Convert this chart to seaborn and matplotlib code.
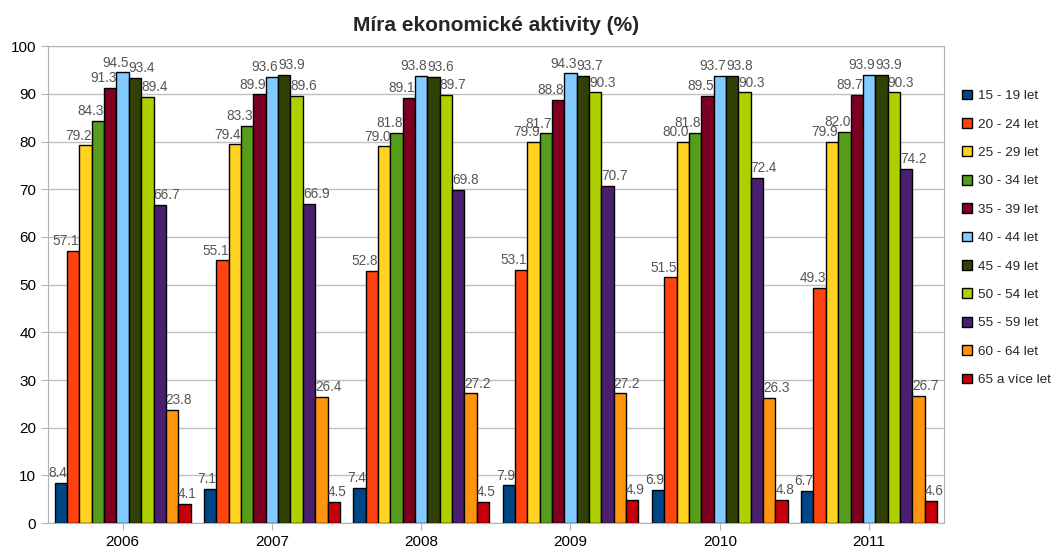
import pandas as pd
import seaborn as sns
import matplotlib.pyplot as plt

years = ["2006", "2007", "2008", "2009", "2010", "2011"]
groups = ["15 - 19 let", "20 - 24 let", "25 - 29 let", "30 - 34 let", "35 - 39 let",
          "40 - 44 let", "45 - 49 let", "50 - 54 let", "55 - 59 let", "60 - 64 let",
          "65 a více let"]

v15_19 = [8.4, 7.1, 7.4, 7.9, 6.9, 6.7]
v20_24 = [57.1, 55.1, 52.8, 53.1, 51.5, 49.3]
v25_29 = [79.2, 79.4, 79.0, 79.9, 80.0, 79.9]
v30_34 = [84.3, 83.3, 81.8, 81.7, 81.8, 82.0]
v35_39 = [91.3, 89.9, 89.1, 88.8, 89.5, 89.7]
v40_44 = [94.5, 93.6, 93.8, 94.3, 93.7, 93.9]
v45_49 = [93.4, 93.9, 93.6, 93.7, 93.8, 93.9]
v50_54 = [89.4, 89.6, 89.7, 90.3, 90.3, 90.3]
v55_59 = [66.7, 66.9, 69.8, 70.7, 72.4, 74.2]
v60_64 = [23.8, 26.4, 27.2, 27.2, 26.3, 26.7]
v65 = [4.1, 4.5, 4.5, 4.9, 4.8, 4.6]

colors = ["#004586", "#ff420e", "#ffd320", "#579d1c", "#7e0021", "#83caff",
          "#314004", "#aecf00", "#4b1f6f", "#ff950e", "#c5000b"]

series = [v15_19, v20_24, v25_29, v30_34, v35_39, v40_44, v45_49, v50_54, v55_59, v60_64, v65]
rows = []
for g, vals in zip(groups, series):
    for y, v in zip(years, vals):
        rows.append({"rok": y, "skupina": g, "hodnota": v})
df = pd.DataFrame(rows)

sns.set_style("white")
plt.rcParams['font.family'] = ['Liberation Sans', 'DejaVu Sans']

fig = plt.figure(figsize=(10.55, 5.53), dpi=100)
ax = fig.add_axes([0.0455, 0.054, 0.849, 0.8626])

sns.barplot(data=df, x="rok", y="hodnota", hue="skupina", order=years, hue_order=groups,
            palette=colors, width=0.91, edgecolor="black", linewidth=1, saturation=1,
            errorbar=None, ax=ax, zorder=3)

# popisky hodnot: prvni polovina skupin konci u praveho okraje sloupce,
# druha polovina zacina u leveho okraje (jako v puvodnim grafu)
for i, c in enumerate(ax.containers):
    for bar in c:
        h = bar.get_height()
        if i < 6:
            xy, ha = (bar.get_x() + bar.get_width(), h), "right"
        else:
            xy, ha = (bar.get_x(), h), "left"
        ax.annotate(f"{h:.1f}", xy, xytext=(0, 2), textcoords="offset points",
                    ha=ha, va="bottom", fontsize=9.8, color="#555555", zorder=4)

ax.set_ylim(0, 100)
ax.set_yticks(range(0, 101, 10))
ax.set_xlim(-0.5, 5.5)
ax.yaxis.grid(True, color="#c0c0c0", linewidth=1, zorder=0)
ax.set_axisbelow(True)
for s in ax.spines.values():
    s.set_color("#b3b3b3")
ax.tick_params(axis="both", labelsize=11, colors="#b3b3b3", labelcolor="black",
               length=5, direction="out")
ax.tick_params(axis="x", bottom=True)
ax.tick_params(axis="y", left=True)
ax.set_xlabel("")
ax.set_ylabel("")

ax.set_title("Míra ekonomické aktivity (%)", fontsize=15, fontweight="bold", pad=11)

ax.legend(loc="upper left", bbox_to_anchor=(0.912, 0.838), bbox_transform=fig.transFigure,
          frameon=False, fontsize=9.7, labelspacing=1.17, handlelength=0.75,
          handleheight=0.75, handletextpad=0.4, borderaxespad=0, borderpad=0)

fig.savefig("out.png", dpi=100)
